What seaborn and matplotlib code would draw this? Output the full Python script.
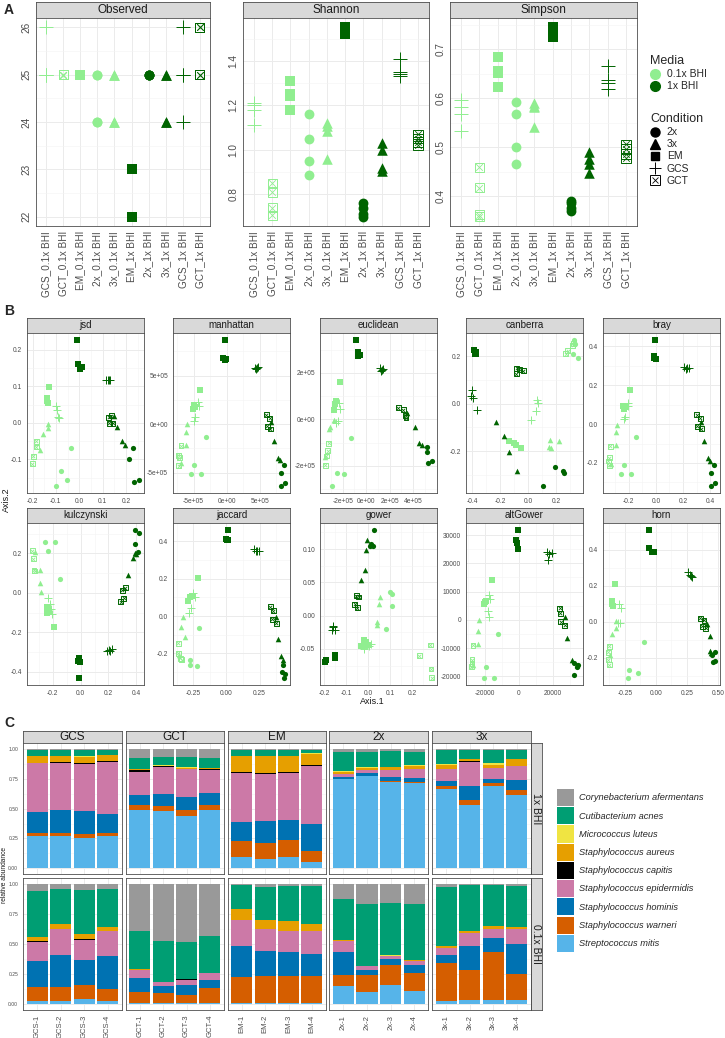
import numpy as np
import pandas as pd
import matplotlib
matplotlib.use("Agg")
import matplotlib.pyplot as plt
from matplotlib.lines import Line2D
from matplotlib.patches import Patch
import seaborn as sns

# ---------------- sample layout ----------------
conditions = ['GCS', 'GCT', 'EM', '2x', '3x']
media_levels = ['0.1x BHI', '1x BHI']
n_rep = 4
sample_condition = [c for m in media_levels for c in conditions for _ in range(n_rep)]
sample_media = [m for m in media_levels for c in conditions for _ in range(n_rep)]

alpha_order = ['GCS_0.1x BHI', 'GCT_0.1x BHI', 'EM_0.1x BHI', '2x_0.1x BHI', '3x_0.1x BHI',
               'EM_1x BHI', '2x_1x BHI', '3x_1x BHI', 'GCS_1x BHI', 'GCT_1x BHI']
legend_conditions = ['2x', '3x', 'EM', 'GCS', 'GCT']

# ---------------- panel A: alpha diversity ----------------
observed = [26, 25, 25, 25, 25, 25, 25, 25, 25, 25, 25, 25, 25, 25, 24, 24, 25, 25, 24, 24,
            26, 25, 25, 24, 26, 25, 25, 26, 23, 22, 22, 23, 25, 25, 25, 25, 25, 25, 24, 24]
shannon = [1.21, 1.20, 1.18, 1.11, 0.85, 0.81, 0.74, 0.705, 1.31, 1.25, 1.24, 1.18,
           1.16, 1.05, 0.95, 0.885, 1.12, 1.105, 1.085, 0.96,
           1.41, 1.35, 1.34, 1.33, 1.07, 1.05, 1.035, 1.02, 1.55, 1.54, 1.53, 1.52,
           0.76, 0.74, 0.71, 0.70, 1.03, 1.0, 0.92, 0.905]
simpson = [0.597, 0.582, 0.567, 0.533, 0.459, 0.417, 0.362, 0.358, 0.684, 0.655, 0.652, 0.623,
           0.592, 0.567, 0.501, 0.466, 0.59, 0.585, 0.583, 0.541,
           0.666, 0.638, 0.631, 0.619, 0.506, 0.496, 0.486, 0.478, 0.745, 0.738, 0.73, 0.725,
           0.39, 0.385, 0.375, 0.37, 0.49, 0.475, 0.465, 0.448]
alpha_yticks = {'Observed': [22, 23, 24, 25, 26], 'Shannon': [0.8, 1.0, 1.2, 1.4], 'Simpson': [0.4, 0.5, 0.6, 0.7]}

# ---------------- panel B: ordinations (sample order as above) ----------------
jsd_x = [-0.1, -0.096, -0.089, -0.087, -0.184, -0.184, -0.196, -0.201, -0.129, -0.136, -0.136, -0.135,
         -0.034, -0.079, -0.052, -0.1, -0.132, -0.132, -0.156, -0.17,
         0.113, 0.123, 0.133, 0.128, 0.126, 0.138, 0.128, 0.145, -0.009, -0.004, 0.003, 0.012,
         0.23, 0.213, 0.233, 0.255, 0.149, 0.162, 0.184, 0.197]
jsd_y = [0.046, 0.035, 0.015, 0.013, -0.05, -0.066, -0.091, -0.112, 0.098, 0.067, 0.06, 0.055,
         -0.069, -0.132, -0.156, -0.172, -0.003, -0.014, -0.031, -0.075,
         0.116, 0.118, 0.118, 0.117, 0.015, 0.019, -0.001, -0.001, 0.226, 0.16, 0.148, 0.153,
         -0.07, -0.1, -0.161, -0.156, 0.019, -0.01, -0.05, -0.061]
manhattan_x = np.array([-4.35, -4.25, -4.75, -4.9, -6.9, -7.3, -7.15, -7.25, -4.1, -5.0, -5.1, -4.75,
                        -3.15, -5.0, -5.4, -3.85, -6.0, -6.15, -6.2, -6.85,
                        4.25, 4.6, 4.4, 4.75, 6.0, 6.5, 6.15, 6.6, -0.2, -0.5, -0.2, -0.1,
                        8.6, 8.15, 8.25, 8.75, 6.75, 7.1, 7.75, 8.0]) * 1e5
manhattan_y = np.array([2.3, 1.86, 0.7, 0.37, -2.2, -3.2, -3.46, -4.3, 3.5, 2.0, 1.56, 1.8,
                        -1.32, -4.24, -5.12, -5.15, 0.0, -0.85, -2.17, -4.03,
                        5.8, 5.8, 5.7, 5.86, 0.95, 0.6, -0.24, -0.5, 8.64, 6.8, 6.6, 6.7,
                        -4.24, -5.05, -6.34, -6.07, 0.27, -1.76, -3.46, -3.7]) * 1e5
euclidean_x = np.array([-2.36, -2.27, -2.44, -2.55, -3.21, -3.29, -3.4, -3.49, -2.27, -2.78, -2.55, -2.64,
                        -1.3, -2.49, -1.93, -2.92, -2.78, -3.06, -3.21, -3.49,
                        1.19, 1.34, 1.25, 1.42, 2.75, 3.17, 3.32, 3.4, -0.85, -0.74, -0.66, -0.57,
                        5.17, 5.17, 5.3, 5.59, 3.51, 4.17, 4.54, 4.74]) * 1e5
euclidean_y = np.array([0.7, 0.46, -0.07, -0.18, -1.04, -1.35, -1.58, -1.97, 1.59, 0.41, 0.77, 0.67,
                        -0.82, -2.32, -2.35, -2.86, -0.01, -0.33, -0.4, -1.61,
                        2.21, 2.12, 2.09, 2.17, 0.5, 0.41, 0.17, 0.07, 3.4, 2.88, 2.73, 2.78,
                        -1.18, -1.4, -1.87, -1.78, 0.27, -0.35, -1.04, -1.11]) * 1e5
canberra_x = [0.059, 0.066, 0.054, 0.019, 0.266, 0.283, 0.318, 0.325, -0.141, -0.099, -0.087, -0.054,
              0.33, 0.337, 0.318, 0.353, 0.158, 0.219, 0.148, 0.165,
              -0.4, -0.407, -0.393, -0.365, -0.082, -0.064, -0.035, -0.087, -0.389, -0.377, -0.384, -0.37,
              0.194, 0.247, 0.252, 0.106, -0.228, -0.172, -0.136, -0.078]
canberra_y = [0.014, 0.003, -0.029, -0.067, 0.212, 0.223, 0.247, 0.256, -0.158, -0.167, -0.176, -0.185,
              0.268, 0.254, 0.209, 0.195, -0.154, -0.158, -0.181, -0.185,
              0.059, 0.031, 0.024, -0.025, 0.149, 0.145, 0.139, 0.126, 0.226, 0.219, 0.212, 0.209,
              -0.269, -0.283, -0.293, -0.346, -0.078, -0.137, -0.204, -0.283]
bray_x = [-0.208, -0.204, -0.228, -0.233, -0.336, -0.343, -0.351, -0.343, -0.189, -0.245, -0.238, -0.228,
          -0.147, -0.238, -0.257, -0.184, -0.287, -0.294, -0.294, -0.331,
          0.208, 0.228, 0.245, 0.221, 0.301, 0.326, 0.306, 0.336, -0.007, -0.017, -0.013, 0.0,
          0.429, 0.404, 0.41, 0.434, 0.336, 0.355, 0.385, 0.4]
bray_y = [0.11, 0.093, 0.036, 0.025, -0.114, -0.173, -0.19, -0.212, 0.174, 0.093, 0.076, 0.086,
          -0.066, -0.212, -0.257, -0.257, -0.003, -0.043, -0.11, -0.207,
          0.296, 0.289, 0.287, 0.284, 0.047, 0.03, -0.012, -0.025, 0.431, 0.352, 0.34, 0.335,
          -0.212, -0.252, -0.317, -0.303, 0.013, -0.088, -0.173, -0.19]
kulczynski_x = [-0.234, -0.219, -0.214, -0.202, -0.345, -0.338, -0.329, -0.333, -0.243, -0.226, -0.238, -0.191,
                -0.257, -0.184, -0.234, -0.148, -0.329, -0.291, -0.291, -0.281,
                0.202, 0.214, 0.226, 0.19, 0.298, 0.321, 0.286, 0.31, -0.012, -0.02, -0.007, -0.01,
                0.393, 0.416, 0.393, 0.412, 0.388, 0.374, 0.338, 0.4]
kulczynski_y = [-0.028, -0.054, -0.084, -0.108, 0.213, 0.174, 0.111, 0.115, -0.074, -0.091, -0.101, -0.172,
                0.257, 0.257, 0.213, 0.068, 0.208, 0.115, 0.048, 0.005,
                -0.29, -0.294, -0.287, -0.295, 0.014, 0.027, -0.046, -0.028, -0.332, -0.345, -0.35, -0.43,
                0.317, 0.304, 0.25, 0.208, 0.2, 0.177, 0.093, 0.196]
jaccard_x = [-0.25, -0.238, -0.27, -0.281, -0.363, -0.363, -0.35, -0.338, -0.213, -0.288, -0.275, -0.263,
             -0.206, -0.275, -0.275, -0.22, -0.33, -0.343, -0.313, -0.356,
             0.212, 0.23, 0.225, 0.245, 0.33, 0.355, 0.345, 0.375, 0.012, -0.005, 0.005, 0.015,
             0.43, 0.42, 0.435, 0.44, 0.375, 0.387, 0.413, 0.425]
jaccard_y = [0.122, 0.101, 0.041, 0.015, -0.147, -0.2, -0.227, -0.235, 0.203, 0.082, 0.104, 0.108,
             -0.066, -0.237, -0.263, -0.267, -0.007, -0.058, -0.111, -0.21,
             0.359, 0.351, 0.346, 0.351, 0.05, 0.028, -0.018, -0.039, 0.459, 0.412, 0.405, 0.409,
             -0.26, -0.3, -0.33, -0.31, -0.007, -0.125, -0.215, -0.233]
gower_x = [0.013, -0.016, 0.005, -0.02, 0.283, 0.233, 0.287, 0.29, -0.016, -0.031, -0.009, 0.0,
           0.102, 0.11, 0.11, 0.08, 0.055, 0.05, 0.043, 0.04,
           -0.157, -0.164, -0.152, -0.161, -0.053, -0.043, -0.061, -0.049, -0.191, -0.194, -0.15, -0.15,
           0.028, 0.013, 0.025, 0.01, -0.004, -0.009, -0.013, -0.031]
gower_y = [-0.042, -0.05, -0.045, -0.048, -0.044, -0.06, -0.08, -0.093, -0.036, -0.046, -0.039, -0.044,
           0.036, 0.033, 0.015, -0.02, 0.028, 0.017, -0.009, -0.014,
           -0.017, -0.022, -0.021, -0.015, 0.03, 0.028, 0.017, 0.012, -0.066, -0.069, -0.059, -0.064,
           0.128, 0.107, 0.105, 0.104, 0.113, 0.098, 0.069, 0.053]
altgower_x = [-17650, -17060, -18240, -17650, -26820, -27410, -27410, -27820, -15650, -19590, -19000, -20180,
              -12350, -19000, -20590, -14700, -23530, -24120, -24120, -26820,
              16300, 17650, 19060, 17060, 23940, 24120, 24530, 26880, -590, -1940, -1350, -590,
              34350, 32350, 32350, 34000, 26880, 28060, 30820, 33940]
altgower_y = [8930, 7390, 3180, 1000, -8970, -14060, -15330, -16630, 14020, 6130, 6630, 5750,
              -5130, -16860, -20460, -20460, 0, -3830, -8700, -15980,
              23980, 23220, 23600, 21070, 4060, 2300, -650, -1920, 31650, 28350, 27050, 24900,
              -15980, -15330, -19430, -16600, 1000, -6400, -14060, -15980]
horn_x = [-0.295, -0.281, -0.287, -0.308, -0.375, -0.383, -0.383, -0.375, -0.33, -0.356, -0.348, -0.356,
          -0.099, -0.215, -0.147, -0.227, -0.322, -0.322, -0.356, -0.367,
          0.26, 0.281, 0.295, 0.276, 0.356, 0.388, 0.375, 0.402, -0.054, -0.054, -0.035, -0.018,
          0.474, 0.456, 0.464, 0.474, 0.416, 0.437, 0.437, 0.448]
horn_y = [0.101, 0.075, -0.006, -0.006, -0.136, -0.168, -0.21, -0.238, 0.212, 0.116, 0.088, 0.097,
          -0.112, -0.27, -0.285, -0.31, 0.004, -0.037, -0.07, -0.186,
          0.274, 0.255, 0.25, 0.261, 0.019, 0.008, -0.024, -0.037, 0.507, 0.41, 0.385, 0.385,
          -0.168, -0.182, -0.223, -0.216, -0.011, -0.08, -0.16, -0.173]

# tick positions and labels for each ordination
jsd_ticks = ([-0.2, -0.1, 0.0, 0.1, 0.2], ['-0.2', '-0.1', '0.0', '0.1', '0.2'],
             [-0.1, 0.0, 0.1, 0.2], ['-0.1', '0.0', '0.1', '0.2'])
manhattan_ticks = ([-5e5, 0, 5e5], ['-5e+05', '0e+00', '5e+05'],
                   [-5e5, 0, 5e5], ['-5e+05', '0e+00', '5e+05'])
euclidean_ticks = ([-2e5, 0, 2e5, 4e5], ['-2e+05', '0e+00', '2e+05', '4e+05'],
                   [-2e5, 0, 2e5], ['-2e+05', '0e+00', '2e+05'])
canberra_ticks = ([-0.4, -0.2, 0.0, 0.2], ['-0.4', '-0.2', '0.0', '0.2'],
                  [-0.2, 0.0, 0.2], ['-0.2', '0.0', '0.2'])
bray_ticks = ([-0.2, 0.0, 0.2, 0.4], ['-0.2', '0.0', '0.2', '0.4'],
              [-0.2, 0.0, 0.2, 0.4], ['-0.2', '0.0', '0.2', '0.4'])
kulczynski_ticks = ([-0.2, 0.0, 0.2, 0.4], ['-0.2', '0.0', '0.2', '0.4'],
                    [-0.4, -0.2, 0.0, 0.2], ['-0.4', '-0.2', '0.0', '0.2'])
jaccard_ticks = ([-0.25, 0.0, 0.25], ['-0.25', '0.00', '0.25'],
                 [-0.2, 0.0, 0.2, 0.4], ['-0.2', '0.0', '0.2', '0.4'])
gower_ticks = ([-0.2, -0.1, 0.0, 0.1, 0.2], ['-0.2', '-0.1', '0.0', '0.1', '0.2'],
               [-0.05, 0.0, 0.05, 0.10], ['-0.05', '0.00', '0.05', '0.10'])
altgower_ticks = ([-20000, 0, 20000], ['-20000', '0', '20000'],
                  [-20000, -10000, 0, 10000, 20000, 30000], ['-20000', '-10000', '0', '10000', '20000', '30000'])
horn_ticks = ([-0.25, 0.0, 0.25, 0.5], ['-0.25', '0.00', '0.25', '0.50'],
              [-0.2, 0.0, 0.2, 0.4], ['-0.2', '0.0', '0.2', '0.4'])

# ---------------- panel C: relative abundance ----------------
taxa = ['Streptococcus mitis', 'Staphylococcus warneri', 'Staphylococcus hominis',
        'Staphylococcus epidermidis', 'Staphylococcus capitis', 'Staphylococcus aureus',
        'Micrococcus luteus', 'Cutibacterium acnes', 'Corynebacterium afermentans']
taxa_colors = ['#56B4E9', '#D55E00', '#0072B2', '#CC79A7', '#000000', '#E69F00',
               '#F0E442', '#009E73', '#999999']
bar_media = ['1x BHI', '0.1x BHI']
# 20 samples of 1x BHI (GCS, GCT, EM, 2x, 3x; 4 each) then 20 of 0.1x BHI
ab_mitis = [0.27, 0.27, 0.25, 0.27, 0.49, 0.478, 0.442, 0.486, 0.089, 0.075, 0.089, 0.047,
            0.747, 0.775, 0.728, 0.719, 0.667, 0.533, 0.692, 0.617,
            0.028, 0.022, 0.044, 0.028, 0.005, 0.005, 0.005, 0.005, 0.005, 0.005, 0.005, 0.005,
            0.153, 0.097, 0.161, 0.106, 0.022, 0.036, 0.03, 0.03]
ab_warneri = [0.025, 0.027, 0.033, 0.022, 0.04, 0.042, 0.044, 0.047, 0.139, 0.139, 0.147, 0.097,
              0.005, 0.003, 0.005, 0.009, 0.027, 0.042, 0.027, 0.041,
              0.114, 0.12, 0.112, 0.1, 0.095, 0.087, 0.067, 0.128, 0.217, 0.231, 0.231, 0.226,
              0.091, 0.147, 0.167, 0.152, 0.32, 0.25, 0.401, 0.22]
ab_hominis = [0.18, 0.19, 0.195, 0.166, 0.087, 0.105, 0.108, 0.097, 0.161, 0.18, 0.172, 0.223,
              0.015, 0.019, 0.031, 0.028, 0.042, 0.119, 0.028, 0.084,
              0.214, 0.264, 0.213, 0.275, 0.117, 0.061, 0.084, 0.07, 0.259, 0.203, 0.195, 0.186,
              0.187, 0.042, 0.047, 0.064, 0.069, 0.2, 0.119, 0.25]
ab_epidermidis = [0.405, 0.40, 0.397, 0.436, 0.194, 0.222, 0.236, 0.195, 0.414, 0.398, 0.395, 0.491,
                  0.025, 0.028, 0.061, 0.077, 0.097, 0.2, 0.092, 0.116,
                  0.166, 0.219, 0.167, 0.203, 0.069, 0.03, 0.047, 0.055, 0.222, 0.186, 0.175, 0.189,
                  0.097, 0.028, 0.022, 0.039, 0.056, 0.106, 0.075, 0.128]
ab_capitis = [0.008, 0.008, 0.01, 0.006, 0.012, 0.008, 0.006, 0.007, 0.008, 0.008, 0.007, 0.007,
              0.002, 0.002, 0.002, 0.002, 0.003, 0.003, 0.002, 0.003,
              0.003, 0.002, 0.003, 0.002, 0.002, 0.002, 0.002, 0.002, 0.002, 0.002, 0.002, 0.002,
              0.002, 0.002, 0.002, 0.002, 0.002, 0.002, 0.002, 0.002]
ab_aureus = [0.055, 0.05, 0.053, 0.05, 0.008, 0.008, 0.01, 0.008, 0.131, 0.144, 0.132, 0.099,
             0.012, 0.012, 0.02, 0.026, 0.031, 0.02, 0.026, 0.053,
             0.033, 0.042, 0.047, 0.034, 0.002, 0.002, 0.002, 0.002, 0.087, 0.076, 0.086, 0.061,
             0.006, 0.003, 0.005, 0.003, 0.017, 0.017, 0.026, 0.012]
ab_luteus = [0.002, 0.002, 0.002, 0.002, 0.003, 0.005, 0.003, 0.003, 0.003, 0.003, 0.003, 0.003,
             0.015, 0.008, 0.005, 0.005, 0.005, 0.004, 0.013, 0.003,
             0.002, 0.002, 0.002, 0.002, 0.001, 0.001, 0.001, 0.001, 0.002, 0.002, 0.002, 0.002,
             0.002, 0.002, 0.002, 0.002, 0.002, 0.002, 0.002, 0.002]
ab_acnes = [0.05, 0.048, 0.053, 0.045, 0.09, 0.07, 0.083, 0.087, 0.05, 0.048, 0.05, 0.03,
            0.157, 0.128, 0.131, 0.112, 0.125, 0.071, 0.117, 0.075,
            0.387, 0.29, 0.365, 0.317, 0.32, 0.34, 0.314, 0.306, 0.2, 0.276, 0.293, 0.318,
            0.337, 0.512, 0.441, 0.468, 0.493, 0.381, 0.339, 0.345]
ab_afermentans = [0.005, 0.005, 0.007, 0.003, 0.076, 0.062, 0.068, 0.07, 0.005, 0.005, 0.005, 0.003,
                  0.022, 0.025, 0.017, 0.022, 0.003, 0.008, 0.003, 0.008,
                  0.053, 0.039, 0.047, 0.039, 0.389, 0.472, 0.478, 0.431, 0.006, 0.019, 0.011, 0.011,
                  0.125, 0.167, 0.153, 0.164, 0.019, 0.006, 0.006, 0.011]

# ---------------- figure setup ----------------
sns.set_style("white")
plt.rcParams['font.family'] = ['Liberation Sans', 'DejaVu Sans']

W, H = 725, 1038
fig = plt.figure(figsize=(W / 100, H / 100), dpi=100)

light, dark = '#90EE90', '#006400'
media_colors = {'0.1x BHI': light, '1x BHI': dark}
border = '#4D4D4D'


def box(left, top, right, bottom):
    return [left / W, 1 - bottom / H, (right - left) / W, (bottom - top) / H]


def strip(left, top, right, bottom, text, size, rotation=0):
    sax = fig.add_axes(box(left, top, right, bottom))
    sax.set_facecolor('#D9D9D9')
    sax.set_xticks([])
    sax.set_yticks([])
    for s in sax.spines.values():
        s.set_visible(True)
        s.set_color(border)
        s.set_linewidth(0.6)
    sax.text(0.5, 0.5, text, ha='center', va='center', fontsize=size, rotation=rotation,
             color='#1A1A1A', transform=sax.transAxes)


def style_panel(ax, size):
    ax.set_facecolor('white')
    for s in ax.spines.values():
        s.set_visible(True)
        s.set_color(border)
        s.set_linewidth(0.6)
    ax.grid(True, which='major', color='#EBEBEB', lw=0.7)
    ax.grid(True, which='minor', color='#F3F3F3', lw=0.4)
    ax.set_axisbelow(True)
    ax.tick_params(which='major', length=2, width=0.5, color='#333333', labelcolor='#4D4D4D',
                   labelsize=size, pad=1.5)
    ax.tick_params(which='minor', length=0)
    ax.set_xlabel('')
    ax.set_ylabel('')


def minor_between(ticks):
    return [(a + b) / 2 for a, b in zip(ticks[:-1], ticks[1:])]


def padded_limits(vals):
    vals = np.asarray(vals, dtype=float)
    pad = 0.05 * (vals.max() - vals.min())
    return vals.min() - pad, vals.max() + pad


def draw_points(ax, df, xcol, ycol, size):
    for (cond, media), sub in df.groupby(['condition', 'media'], sort=False):
        col = media_colors[media]
        if cond == 'GCS':
            sns.scatterplot(data=sub, x=xcol, y=ycol, marker='+', color=col, s=size * 2.0,
                            linewidth=0.7, ax=ax, legend=False)
        elif cond == 'GCT':
            sns.scatterplot(data=sub, x=xcol, y=ycol, marker='s', color=col, facecolor='none',
                            edgecolor=col, s=size * 0.9, linewidth=0.7, ax=ax, legend=False)
            sns.scatterplot(data=sub, x=xcol, y=ycol, marker='x', color=col, s=size * 0.45,
                            linewidth=0.6, ax=ax, legend=False)
        else:
            mk = {'2x': 'o', '3x': '^', 'EM': 's'}[cond]
            sns.scatterplot(data=sub, x=xcol, y=ycol, marker=mk, color=col,
                            s=size * (1.15 if mk == '^' else 1.0), linewidth=0, ax=ax, legend=False)


# ---------------- panel A ----------------
alpha_df = pd.DataFrame({'condition': sample_condition, 'media': sample_media,
                         'Observed': observed, 'Shannon': shannon, 'Simpson': simpson})
alpha_df['group'] = alpha_df['condition'] + '_' + alpha_df['media']
alpha_df['xpos'] = [alpha_order.index(g) for g in alpha_df['group']]

alpha_boxes = {'Observed': (36, 210), 'Shannon': (243, 429), 'Simpson': (450, 637)}
for metric, (l, r) in alpha_boxes.items():
    strip(l, 2, r, 18, metric, 8.5)
    ax = fig.add_axes(box(l, 18, r, 226))
    draw_points(ax, alpha_df, 'xpos', metric, 50)
    style_panel(ax, 7.2)
    ax.set_xticks(range(len(alpha_order)))
    ax.set_xticklabels(alpha_order, rotation=90)
    yt = alpha_yticks[metric]
    ax.set_yticks(yt)
    ax.set_yticks(minor_between(yt) + [yt[-1] + (yt[1] - yt[0]) / 2], minor=True)
    ax.set_yticklabels([str(v) if metric == 'Observed' else f'{v:.1f}' for v in yt],
                       rotation=90, va='center')
    ax.set_xlim(-0.6, len(alpha_order) - 0.4)
    ax.set_ylim(*padded_limits(alpha_df[metric]))

media_handles = [Line2D([], [], marker='o', ls='', color=light, ms=7),
                 Line2D([], [], marker='o', ls='', color=dark, ms=7)]
fig.legend(media_handles, media_levels, title='Media', loc='upper left',
           bbox_to_anchor=(645 / W, 1 - 50 / H), frameon=False, fontsize=7.5,
           title_fontsize=9, handlelength=1.0, handletextpad=0.6, labelspacing=0.2,
           borderpad=0, alignment='left')
cond_handles = [Line2D([], [], marker='o', ls='', color='black', ms=6.5),
                Line2D([], [], marker='^', ls='', color='black', ms=7),
                Line2D([], [], marker='s', ls='', color='black', ms=6),
                Line2D([], [], marker='+', ls='', color='black', ms=9, mew=0.7),
                (Line2D([], [], marker='s', ls='', mfc='none', mec='black', ms=7, mew=0.7),
                 Line2D([], [], marker='x', ls='', color='black', ms=4.5, mew=0.6))]
fig.legend(cond_handles, legend_conditions,
           title='Condition', loc='upper left', bbox_to_anchor=(645 / W, 1 - 108 / H),
           frameon=False, fontsize=7.5, title_fontsize=9, handlelength=1.0, handletextpad=0.6,
           labelspacing=0.2, borderpad=0, alignment='left')

# ---------------- panel B ----------------
ordinations = [('jsd', jsd_x, jsd_y, jsd_ticks), ('manhattan', manhattan_x, manhattan_y, manhattan_ticks),
               ('euclidean', euclidean_x, euclidean_y, euclidean_ticks),
               ('canberra', canberra_x, canberra_y, canberra_ticks), ('bray', bray_x, bray_y, bray_ticks),
               ('kulczynski', kulczynski_x, kulczynski_y, kulczynski_ticks),
               ('jaccard', jaccard_x, jaccard_y, jaccard_ticks), ('gower', gower_x, gower_y, gower_ticks),
               ('altGower', altgower_x, altgower_y, altgower_ticks), ('horn', horn_x, horn_y, horn_ticks)]
cols_b = [(27, 144), (173, 290), (320, 437), (466, 583), (603, 720)]
rows_b = [(318, 333, 493), (508, 523, 685)]

for i, (name, xs, ys, ticks) in enumerate(ordinations):
    l, r = cols_b[i % 5]
    st, pt, pb = rows_b[i // 5]
    strip(l, st, r, pt, name, 7)
    ax = fig.add_axes(box(l, pt, r, pb))
    odf = pd.DataFrame({'Axis.1': xs, 'Axis.2': ys, 'condition': sample_condition, 'media': sample_media})
    draw_points(ax, odf, 'Axis.1', 'Axis.2', 14)
    style_panel(ax, 4.8)
    xt, xl, yt, yl = ticks
    ax.set_xticks(xt)
    ax.set_xticklabels(xl)
    ax.set_yticks(yt)
    ax.set_yticklabels(yl)
    dx, dy = xt[1] - xt[0], yt[1] - yt[0]
    ax.set_xticks(minor_between(xt) + [xt[0] - dx / 2, xt[-1] + dx / 2], minor=True)
    ax.set_yticks(minor_between(yt) + [yt[0] - dy / 2, yt[-1] + dy / 2], minor=True)
    ax.set_xlim(*padded_limits(xs))
    ax.set_ylim(*padded_limits(ys))

fig.text(6 / W, 1 - 500 / H, 'Axis.2', rotation=90, ha='center', va='center', fontsize=6.5, color='#1A1A1A')
fig.text(372 / W, 1 - 701 / H, 'Axis.1', ha='center', va='center', fontsize=6.5, color='#1A1A1A')

# ---------------- panel C ----------------
ab = np.vstack([ab_mitis, ab_warneri, ab_hominis, ab_epidermidis, ab_capitis, ab_aureus,
                ab_luteus, ab_acnes, ab_afermentans])
cum = np.cumsum(ab, axis=0)
cum = cum / cum[-1]
bar_sample = [f'{c}-{k}' for m in bar_media for c in conditions for k in range(1, n_rep + 1)]
bar_cond = [c for m in bar_media for c in conditions for _ in range(n_rep)]
bar_med = [m for m in bar_media for c in conditions for _ in range(n_rep)]
long_rows = []
for t, taxon in enumerate(taxa):
    for j in range(len(bar_sample)):
        long_rows.append((bar_sample[j], bar_cond[j], bar_med[j], taxon, cum[t, j]))
bars = pd.DataFrame(long_rows, columns=['sample', 'condition', 'media', 'taxon', 'top'])

cols_c = [(23, 121.7), (125.7, 224), (227.7, 326), (329.3, 428.3), (432.3, 531)]
rows_c = [(743.3, 874), (878.3, 1010)]
palette = dict(zip(taxa, taxa_colors))
for ri, media in enumerate(bar_media):
    t, b = rows_c[ri]
    strip(531, t, 541.7, b, media, 7.5, rotation=-90)
    for ci, cond in enumerate(conditions):
        l, r = cols_c[ci]
        if ri == 0:
            strip(l, 730.7, r, 743.3, cond, 8.5)
        ax = fig.add_axes(box(l, t, r, b))
        sub = bars[(bars['media'] == media) & (bars['condition'] == cond)]
        order = [f'{cond}-{k}' for k in range(1, n_rep + 1)]
        sns.barplot(data=sub, x='sample', y='top', hue='taxon', hue_order=taxa[::-1], order=order,
                    palette=palette, dodge=False, saturation=1, width=0.9, errorbar=None,
                    linewidth=0, legend=False, ax=ax)
        style_panel(ax, 3.6)
        ax.set_yticks([0, 0.25, 0.5, 0.75, 1.0])
        ax.set_yticks([0.125, 0.375, 0.625, 0.875], minor=True)
        ax.set_xticks(range(n_rep))
        ax.set_xlim(-0.6, 3.6)
        ax.set_ylim(-0.05, 1.05)
        if ci == 0:
            ax.set_yticklabels(['0.00', '0.25', '0.50', '0.75', '1.00'])
        else:
            ax.set_yticklabels([])
            ax.tick_params(axis='y', length=0)
        if ri == 1:
            ax.set_xticklabels(order, rotation=90, fontsize=5.5)
        else:
            ax.set_xticklabels([])
            ax.tick_params(axis='x', length=0)

fig.text(5 / W, 1 - 875 / H, 'relative abundance', rotation=90, ha='center', va='center',
         fontsize=4.8, color='#1A1A1A')

taxa_handles = [Patch(facecolor=c, edgecolor='none') for c in taxa_colors[::-1]]
fig.legend(taxa_handles, taxa[::-1], loc='upper left', bbox_to_anchor=(557 / W, 1 - 789 / H),
           frameon=False, prop={'style': 'italic', 'size': 6.7}, handlelength=1.85, handleheight=2.45,
           handletextpad=0.55, labelspacing=0.12, borderpad=0, borderaxespad=0)

# panel letters
for letter, y in (('A', 10), ('B', 311), ('C', 723)):
    fig.text(4 / W, 1 - y / H, letter, fontsize=10, fontweight='bold', va='center', ha='left')

fig.savefig('out.png', dpi=100)
